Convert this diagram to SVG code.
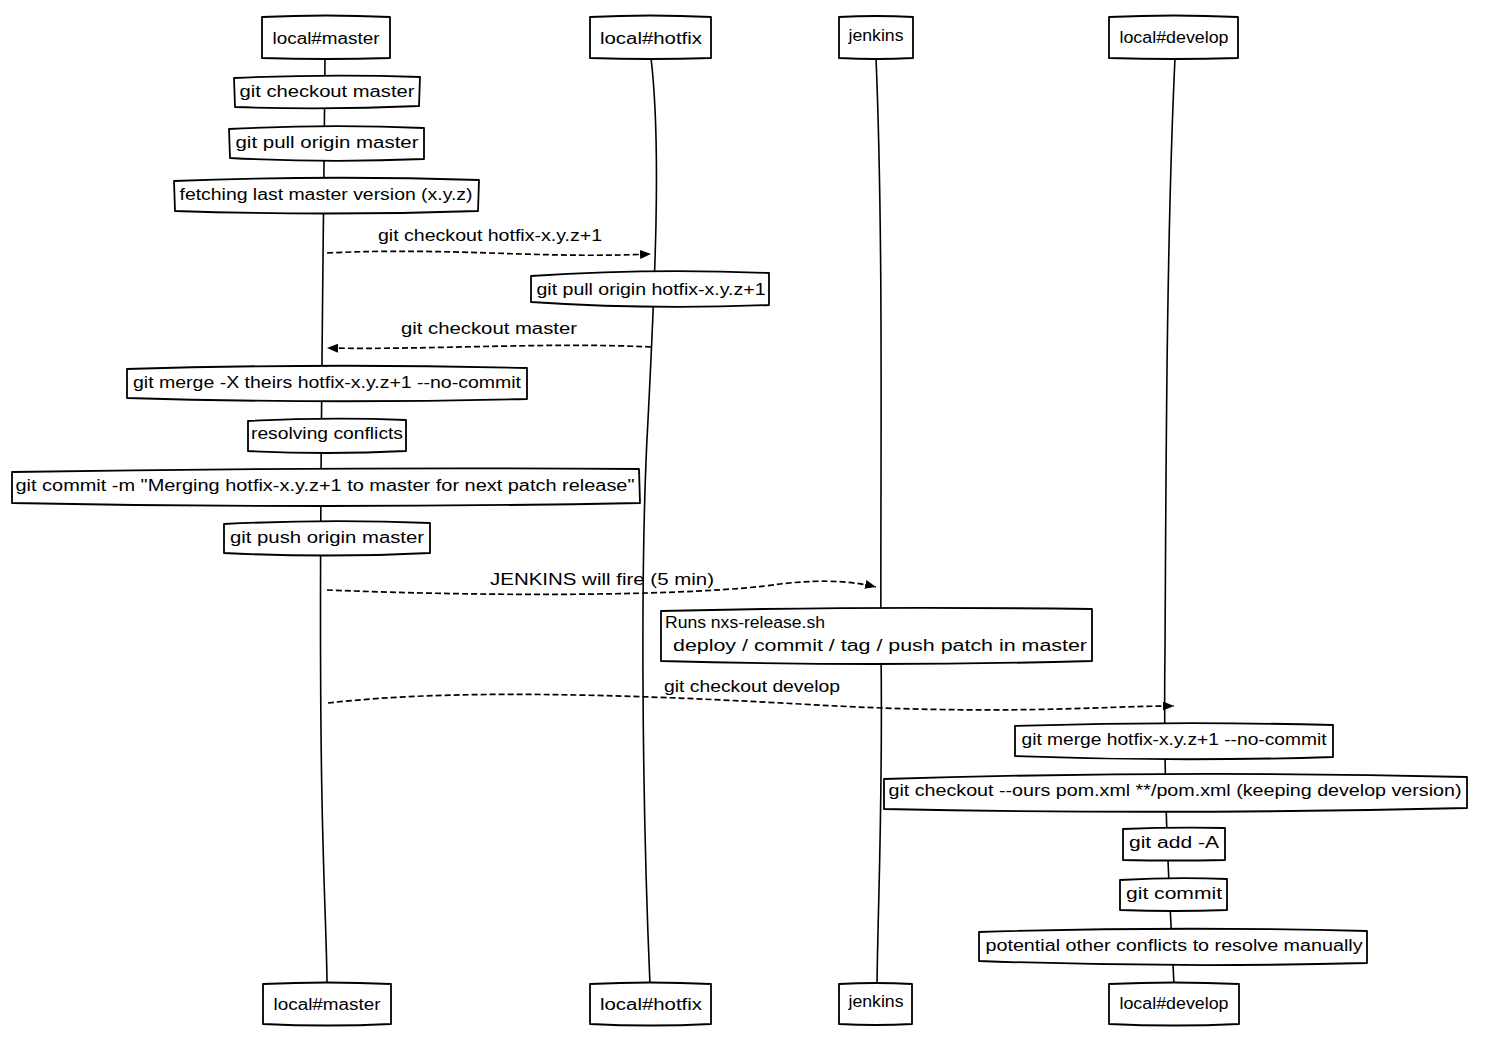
<svg xmlns="http://www.w3.org/2000/svg" width="1490" height="1054" viewBox="0 0 1490 1054">
<style>
.box{fill:#fff;stroke:#000;stroke-width:1.8;stroke-linejoin:round}
.life{fill:none;stroke:#000;stroke-width:1.6}
.msg{fill:none;stroke:#000;stroke-width:1.7;stroke-dasharray:6 3}
.t{font-family:"Liberation Sans","DejaVu Sans",sans-serif;font-size:16px;fill:#000}
.c{text-anchor:middle}
</style>
<defs>
<marker id="ah" viewBox="0 0 11 9" refX="11" refY="4.5" markerWidth="11" markerHeight="9" markerUnits="userSpaceOnUse" orient="auto">
<path d="M0,0 L11,4.5 L0,9 z" fill="#000"/>
</marker>
</defs>
<rect width="1490" height="1054" fill="#fff"/>

<g id="lifelines">
<path class="life" d="M325,58 C323,300 318,600 322,800 C324,900 327,950 327,985"/>
<path class="life" d="M651,58 C662,150 654,300 648,420 C640,560 642,800 650,985"/>
<path class="life" d="M876,58 C884,250 880,500 881,650 C883,800 878,900 877,985"/>
<path class="life" d="M1175,58 C1166,250 1166,500 1165,650 C1163,800 1170,900 1174,985"/>
</g>

<g id="connectors">
<path class="msg" marker-end="url(#ah)" d="M327,253 C450,247 540,259 651,254"/>
<path class="msg" marker-end="url(#ah)" d="M651,347 C550,342 430,350 327,348"/>
<path class="msg" marker-end="url(#ah)" d="M327,590 C500,597 700,596 780,584 C830,578 860,583 876,587"/>
<path class="msg" marker-end="url(#ah)" d="M328,703 C450,689 620,694 800,704 C1000,716 1100,706 1174,706"/>
<text class="t c" x="490" y="241" textLength="224" lengthAdjust="spacingAndGlyphs">git checkout hotfix-x.y.z+1</text>
<text class="t c" x="489" y="334" textLength="176" lengthAdjust="spacingAndGlyphs">git checkout master</text>
<text class="t c" x="602" y="585" textLength="224" lengthAdjust="spacingAndGlyphs">JENKINS will fire (5 min)</text>
<text class="t" x="664" y="692" textLength="176" lengthAdjust="spacingAndGlyphs">git checkout develop</text>
</g>

<g id="p-master-top">
<path class="box" d="M262,17 Q326,14 390,17 L390,58 Q326,60 262,58 Z"/>
<text class="t c" x="326" y="44" textLength="107" lengthAdjust="spacingAndGlyphs">local#master</text>
</g>
<g id="p-hotfix-top">
<path class="box" d="M590,17 Q650,14 711,17 L711,58 Q650,60 590,58 Z"/>
<text class="t c" x="651" y="44" textLength="102" lengthAdjust="spacingAndGlyphs">local#hotfix</text>
</g>
<g id="p-jenkins-top">
<path class="box" d="M839,17 Q876,15 913,17 L913,58 Q876,60 839,58 Z"/>
<text class="t c" x="876" y="41" textLength="55" lengthAdjust="spacingAndGlyphs">jenkins</text>
</g>
<g id="p-develop-top">
<path class="box" d="M1109,17 Q1174,14 1238,17 L1238,58 Q1174,60 1109,58 Z"/>
<text class="t c" x="1174" y="43" textLength="109" lengthAdjust="spacingAndGlyphs">local#develop</text>
</g>

<g id="s1">
<path class="box" d="M234,78 Q327,74 420,77 L419,106 Q327,110 235,107 Z"/>
<text class="t c" x="327" y="97" textLength="175" lengthAdjust="spacingAndGlyphs">git checkout master</text>
</g>
<g id="s2">
<path class="box" d="M229,129 Q327,124 424,128 L424,159 Q327,163 230,158 Z"/>
<text class="t c" x="327" y="148" textLength="183" lengthAdjust="spacingAndGlyphs">git pull origin master</text>
</g>
<g id="s3">
<path class="box" d="M174,181 Q326,175 479,180 L478,211 Q326,216 175,211 Z"/>
<text class="t c" x="326" y="200" textLength="293" lengthAdjust="spacingAndGlyphs">fetching last master version (x.y.z)</text>
</g>
<g id="s4">
<path class="box" d="M531,276 Q650,268 769,273 L769,305 Q650,310 531,302 Z"/>
<text class="t c" x="651" y="295" textLength="229" lengthAdjust="spacingAndGlyphs">git pull origin hotfix-x.y.z+1</text>
</g>
<g id="s5">
<path class="box" d="M127,369 Q327,363 527,368 L527,399 Q327,404 127,398 Z"/>
<text class="t c" x="327" y="388" textLength="388" lengthAdjust="spacingAndGlyphs">git merge -X theirs hotfix-x.y.z+1 --no-commit</text>
</g>
<g id="s6">
<path class="box" d="M248,421 Q327,417 406,420 L406,451 Q327,455 248,451 Z"/>
<text class="t c" x="327" y="439" textLength="152" lengthAdjust="spacingAndGlyphs">resolving conflicts</text>
</g>
<g id="s7">
<path class="box" d="M12,472 Q326,467 639,469 L640,503 Q326,509 12,503 Z"/>
<text class="t c" x="325" y="491" textLength="619" lengthAdjust="spacingAndGlyphs">git commit -m "Merging hotfix-x.y.z+1 to master for next patch release"</text>
</g>
<g id="s8">
<path class="box" d="M224,524 Q327,519 430,523 L430,553 Q327,558 224,553 Z"/>
<text class="t c" x="327" y="543" textLength="194" lengthAdjust="spacingAndGlyphs">git push origin master</text>
</g>
<g id="s9">
<path class="box" d="M661,611 Q860,606 1092,609 L1092,661 Q876,667 661,661 Z"/>
<text class="t" x="665" y="628" textLength="160" lengthAdjust="spacingAndGlyphs">Runs nxs-release.sh</text>
<text class="t" x="673" y="651" textLength="414" lengthAdjust="spacingAndGlyphs">deploy / commit / tag / push patch in master</text>
</g>
<g id="s10">
<path class="box" d="M1015,726 Q1174,721 1333,725 L1333,757 Q1174,762 1015,756 Z"/>
<text class="t c" x="1174" y="745" textLength="305" lengthAdjust="spacingAndGlyphs">git merge hotfix-x.y.z+1 --no-commit</text>
</g>
<g id="s11">
<path class="box" d="M884,779 Q1175,770 1467,777 L1467,808 Q1175,815 884,809 Z"/>
<text class="t c" x="1175" y="796" textLength="573" lengthAdjust="spacingAndGlyphs">git checkout --ours pom.xml **/pom.xml (keeping develop version)</text>
</g>
<g id="s12">
<path class="box" d="M1123,829 Q1174,827 1225,828 L1225,860 Q1174,861 1123,860 Z"/>
<text class="t c" x="1174" y="848" textLength="90" lengthAdjust="spacingAndGlyphs">git add -A</text>
</g>
<g id="s13">
<path class="box" d="M1120,880 Q1174,877 1227,879 L1227,910 Q1174,912 1120,910 Z"/>
<text class="t c" x="1174" y="899" textLength="96" lengthAdjust="spacingAndGlyphs">git commit</text>
</g>
<g id="s14">
<path class="box" d="M979,932 Q1174,926 1367,931 L1367,963 Q1174,968 979,961 Z"/>
<text class="t c" x="1174" y="951" textLength="377" lengthAdjust="spacingAndGlyphs">potential other conflicts to resolve manually</text>
</g>

<g id="p-master-bottom">
<path class="box" d="M263,984 Q327,981 391,984 L391,1024 Q327,1027 263,1024 Z"/>
<text class="t c" x="327" y="1010" textLength="107" lengthAdjust="spacingAndGlyphs">local#master</text>
</g>
<g id="p-hotfix-bottom">
<path class="box" d="M590,984 Q650,981 711,984 L711,1024 Q650,1027 590,1024 Z"/>
<text class="t c" x="651" y="1010" textLength="102" lengthAdjust="spacingAndGlyphs">local#hotfix</text>
</g>
<g id="p-jenkins-bottom">
<path class="box" d="M839,984 Q876,982 912,984 L912,1024 Q876,1026 839,1024 Z"/>
<text class="t c" x="876" y="1007" textLength="55" lengthAdjust="spacingAndGlyphs">jenkins</text>
</g>
<g id="p-develop-bottom">
<path class="box" d="M1109,984 Q1174,981 1239,984 L1239,1024 Q1174,1027 1109,1024 Z"/>
<text class="t c" x="1174" y="1009" textLength="109" lengthAdjust="spacingAndGlyphs">local#develop</text>
</g>
</svg>
